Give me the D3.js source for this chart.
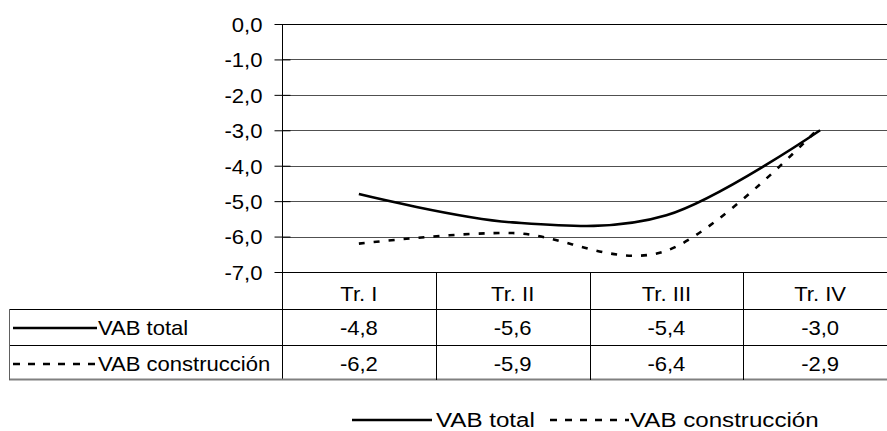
<!DOCTYPE html>
<html>
<head>
<meta charset="utf-8">
<script src="https://cdn.jsdelivr.net/npm/d3@7"></script>
<style>
  html, body { margin: 0; padding: 0; background: #fff; }
  svg { display: block; }
  text { font-family: "Liberation Sans", Arial, sans-serif; fill: #000; }
</style>
</head>
<body>
<svg id="chart" width="887" height="431"></svg>
<script>
// ---- data ----
const categories = ["Tr. I", "Tr. II", "Tr. III", "Tr. IV"];
const vabTotal = [-4.8, -5.6, -5.4, -3.0];
const vabConstruccion = [-6.2, -5.9, -6.4, -2.9];
const seriesNames = ["VAB total", "VAB construcción"];
const yTicks = [0, -1, -2, -3, -4, -5, -6, -7];

// ---- layout ----
const plotLeft = 282, plotRight = 897, plotTop = 24, plotBottom = 272;
const row1Bottom = 309, row2Bottom = 345, row3Bottom = 380;
const tableLeft = 9;
const fs = 21, sx = 1.05, sxLeg = 1.15;

const locale = d3.formatLocale({ decimal: ",", thousands: ".", grouping: [3], currency: ["", "€"], minus: "-" });
const fmt = locale.format(".1f");

const svg = d3.select("#chart");

const x = d3.scaleBand().domain(categories).range([plotLeft, plotRight]).paddingInner(0).paddingOuter(0);
const y = d3.scaleLinear().domain([-7, 0]).range([plotBottom, plotTop]);
const cx = c => x(c) + x.bandwidth() / 2;

// gridlines
svg.append("g").selectAll("line").data(yTicks).join("line")
  .attr("x1", plotLeft).attr("x2", plotRight)
  .attr("y1", d => Math.round(y(d)) + 0.5).attr("y2", d => Math.round(y(d)) + 0.5)
  .attr("stroke", d => (d === 0 || d === -7) ? "#000" : "#505050")
  .attr("stroke-width", 1);

// y axis
const yAxis = d3.axisLeft(y).tickValues(yTicks).tickFormat(fmt).tickSize(8).tickSizeOuter(0);
const gy = svg.append("g").attr("transform", `translate(${plotLeft + 0.5},0)`).call(yAxis);
gy.select(".domain").remove();
gy.selectAll(".tick line").attr("stroke", "#000").attr("x2", -8).attr("x1", 8);
gy.selectAll(".tick text")
  .attr("x", 0).attr("dy", null)
  .attr("font-size", fs)
  .attr("font-family", '"Liberation Sans", Arial, sans-serif')
  .attr("text-anchor", "end")
  .attr("dominant-baseline", "central")
  .attr("transform", `translate(-20,0.5) scale(${sx},1)`)
  .attr("fill", "#000");

// axis vertical line (continues through table)
svg.append("line")
  .attr("x1", plotLeft + 0.5).attr("x2", plotLeft + 0.5)
  .attr("y1", plotTop).attr("y2", row3Bottom)
  .attr("stroke", "#000");

// table horizontal lines
[row1Bottom, row2Bottom].forEach(yy => {
  svg.append("line").attr("x1", tableLeft).attr("x2", plotRight)
    .attr("y1", yy + 0.5).attr("y2", yy + 0.5).attr("stroke", "#000");
});
svg.append("line").attr("x1", tableLeft).attr("x2", plotRight)
  .attr("y1", row3Bottom - 0.5).attr("y2", row3Bottom - 0.5)
  .attr("stroke", "#808080").attr("stroke-width", 2);
// table left border
svg.append("line").attr("x1", tableLeft + 0.5).attr("x2", tableLeft + 0.5)
  .attr("y1", row1Bottom).attr("y2", row3Bottom)
  .attr("stroke", "#606060");
// column separators
svg.append("g").selectAll("line").data(categories.slice(1)).join("line")
  .attr("x1", d => Math.round(x(d)) + 0.5).attr("x2", d => Math.round(x(d)) + 0.5)
  .attr("y1", plotBottom).attr("y2", row3Bottom)
  .attr("stroke", "#000");

// header labels
svg.append("g").selectAll("text").data(categories).join("text")
  .attr("transform", d => `translate(${cx(d)},301) scale(${sx},1)`)
  .attr("text-anchor", "middle").attr("font-size", fs)
  .text(d => d);

// data rows
const rows = [
  { name: seriesNames[0], values: vabTotal, base: 334.5, dash: null },
  { name: seriesNames[1], values: vabConstruccion, base: 370.5, dash: "7,8" }
];
rows.forEach(r => {
  svg.append("g").selectAll("text").data(r.values).join("text")
    .attr("transform", (d, i) => `translate(${cx(categories[i])},${r.base}) scale(${sx},1)`)
    .attr("text-anchor", "middle").attr("font-size", fs)
    .text(d => fmt(d));
  svg.append("line").attr("x1", 13).attr("x2", 97)
    .attr("y1", r.base - 6.5).attr("y2", r.base - 6.5)
    .attr("stroke", "#000").attr("stroke-width", 2.5)
    .attr("stroke-dasharray", r.dash);
  svg.append("text")
    .attr("transform", `translate(98,${r.base}) scale(${sx},1)`)
    .attr("font-size", fs).text(r.name);
});

// lines
const line = d3.line()
  .x((d, i) => cx(categories[i]))
  .y(d => y(d))
  .curve(d3.curveCardinal.tension(0));

svg.append("path").datum(vabTotal)
  .attr("d", line).attr("fill", "none")
  .attr("stroke", "#000").attr("stroke-width", 2.6);
svg.append("path").datum(vabConstruccion)
  .attr("d", line).attr("fill", "none")
  .attr("stroke", "#000").attr("stroke-width", 2.6)
  .attr("stroke-dasharray", "6,9");

// bottom legend
const legY = 420, legBase = 427;
svg.append("line").attr("x1", 352).attr("x2", 432).attr("y1", legY).attr("y2", legY)
  .attr("stroke", "#000").attr("stroke-width", 2.5);
svg.append("text").attr("transform", `translate(436,${legBase}) scale(${sxLeg},1)`)
  .attr("font-size", fs).text(seriesNames[0]);
svg.append("line").attr("x1", 550).attr("x2", 629).attr("y1", legY).attr("y2", legY)
  .attr("stroke", "#000").attr("stroke-width", 2.5).attr("stroke-dasharray", "7,8");
svg.append("text").attr("transform", `translate(630,${legBase}) scale(${sxLeg},1)`)
  .attr("font-size", fs).text(seriesNames[1]);
</script>
</body>
</html>
